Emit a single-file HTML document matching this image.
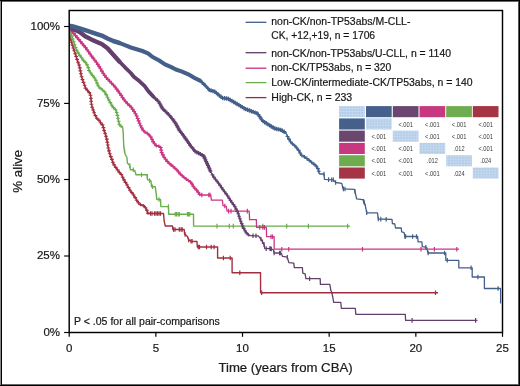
<!DOCTYPE html>
<html><head><meta charset="utf-8"><style>
html,body{margin:0;padding:0;background:#fff;}
body{width:520px;height:386px;overflow:hidden;position:relative;}
svg{position:absolute;left:0;top:0;will-change:transform;}
text{font-family:"Liberation Sans",sans-serif;stroke:currentColor;stroke-width:0.18px;}
text.t{stroke:none;}
</style></head><body>
<svg width="520" height="386" viewBox="0 0 520 386">
<defs><pattern id="chk" width="2.8" height="2.8" patternUnits="userSpaceOnUse">
<rect width="2.8" height="2.8" fill="#c9dcf0"/><rect width="2.0" height="2.0" fill="#b2cbe7"/></pattern>
<clipPath id="pc"><rect x="69.6" y="11" width="432" height="320.5"/></clipPath></defs>
<rect x="0" y="0" width="520" height="386" fill="#fff"/>
<rect x="0" y="1" width="520" height="1" fill="#666"/>
<rect x="0" y="384" width="520" height="1" fill="#666"/>
<rect x="518" y="0" width="1" height="386" fill="#555"/>
<rect x="0" y="0" width="1" height="386" fill="#888"/>
<rect x="1" y="0" width="1" height="386" fill="#000"/>
<rect x="0" y="0" width="520" height="1" fill="#000"/>
<rect x="519" y="0" width="1" height="386" fill="#000"/>
<rect x="0" y="385" width="520" height="1" fill="#000"/>
<g clip-path="url(#pc)"><path d="M69.0,26.0 L69.6,32.0 L70.3,38.1 L71.9,43.5 L73.4,48.2 L75.0,52.9 L76.5,57.5 L77.7,61.5 L78.8,64.0 L79.6,66.7 L80.3,70.5 L81.1,75.0 L82.6,79.8 L84.3,84.5 L85.8,88.8 L88.7,91.5 L90.5,95.0 L91.1,99.6 L91.6,105.5 L92.9,109.3 L94.6,114.0 L97.0,118.6 L99.9,121.0 L101.1,123.9 L102.8,125.1 L104.0,130.3 L105.7,135.0 L106.9,139.6 L107.8,145.0 L108.5,149.0 L109.4,152.8 L111.2,157.5 L113.5,164.0 L116.2,168.0 L118.6,171.5 L121.7,175.0 L123.8,179.6 L126.7,184.3 L130.0,190.2 L133.5,194.8 L137.0,200.6 L139.3,204.1 L144.0,205.9 L146.3,208.8 L148.1,213.5" fill="none" stroke="#a22e40" stroke-width="1.3" stroke-linejoin="round" stroke-linecap="butt"/>
<path d="M67.5,30.5h3.8M69.4,28.8v3.4M67.9,33.5h3.8M69.8,31.8v3.4M68.2,36.4h3.8M70.1,34.7v3.4M68.8,39.4h3.8M70.7,37.7v3.4M69.6,42.3h3.8M71.5,40.6v3.4M70.5,45.1h3.8M72.4,43.4v3.4M71.4,48.0h3.8M73.3,46.3v3.4M72.4,50.8h3.8M74.3,49.1v3.4M73.3,53.7h3.8M75.2,52.0v3.4M74.3,56.5h3.8M76.2,54.8v3.4M75.2,59.4h3.8M77.1,57.7v3.4M76.1,62.2h3.8M78.0,60.5v3.4M77.2,65.0h3.8M79.1,63.3v3.4M77.9,67.9h3.8M79.8,66.2v3.4M78.5,70.9h3.8M80.4,69.2v3.4M79.0,73.8h3.8M80.9,72.1v3.4M79.7,76.7h3.8M81.6,75.0v3.4M80.6,79.6h3.8M82.5,77.9v3.4M81.6,82.4h3.8M83.5,80.7v3.4M82.7,85.2h3.8M84.6,83.5v3.4M83.6,88.1h3.8M85.5,86.4v3.4M85.5,90.3h3.8M87.4,88.6v3.4M87.4,92.6h3.8M89.3,90.9v3.4M88.6,95.3h3.8M90.5,93.6v3.4M89.0,98.3h3.8M90.9,96.6v3.4M89.3,101.3h3.8M91.2,99.6v3.4M89.6,104.3h3.8M91.5,102.6v3.4M90.3,107.2h3.8M92.2,105.5v3.4M91.3,110.0h3.8M93.2,108.3v3.4M92.3,112.8h3.8M94.2,111.1v3.4M93.5,115.6h3.8M95.4,113.9v3.4M94.9,118.2h3.8M96.8,116.5v3.4M97.1,120.2h3.8M99.0,118.5v3.4M98.7,122.7h3.8M100.6,121.0v3.4M100.6,124.9h3.8M102.5,123.2v3.4M101.5,127.6h3.8M103.4,125.9v3.4M102.2,130.5h3.8M104.1,128.8v3.4M103.2,133.3h3.8M105.1,131.6v3.4M104.1,136.2h3.8M106.0,134.5v3.4M104.9,139.1h3.8M106.8,137.4v3.4M105.4,142.1h3.8M107.3,140.4v3.4M105.9,145.0h3.8M107.8,143.3v3.4M106.4,148.0h3.8M108.3,146.3v3.4M107.1,150.9h3.8M109.0,149.2v3.4M107.9,153.8h3.8M109.8,152.1v3.4M108.9,156.6h3.8M110.8,154.9v3.4M110.0,159.4h3.8M111.9,157.7v3.4M111.0,162.2h3.8M112.9,160.5v3.4M112.2,164.9h3.8M114.1,163.2v3.4M113.9,167.4h3.8M115.8,165.7v3.4M115.6,169.9h3.8M117.5,168.2v3.4M117.4,172.3h3.8M119.3,170.6v3.4M119.4,174.5h3.8M121.3,172.8v3.4M120.8,177.2h3.8M122.7,175.5v3.4M122.1,179.9h3.8M124.0,178.2v3.4M123.6,182.4h3.8M125.5,180.7v3.4M125.2,185.0h3.8M127.1,183.3v3.4M126.7,187.6h3.8M128.6,185.9v3.4M128.1,190.2h3.8M130.0,188.5v3.4M129.9,192.6h3.8M131.8,190.9v3.4M131.7,195.0h3.8M133.6,193.3v3.4M133.3,197.6h3.8M135.2,195.9v3.4M134.8,200.2h3.8M136.7,198.5v3.4M136.5,202.7h3.8M138.4,201.0v3.4M138.6,204.6h3.8M140.5,202.9v3.4M141.4,205.6h3.8M143.3,203.9v3.4M143.5,207.7h3.8M145.4,206.0v3.4M145.0,210.3h3.8M146.9,208.6v3.4M146.0,213.1h3.8M147.9,211.4v3.4" fill="none" stroke="#a22e40" stroke-width="1.1"/>
<path d="M148.1,213.5 L163.5,213.5 L164.2,221.3 L165.3,226.0 L172.5,226.0 L172.9,229.5 L184.2,229.5 L184.6,234.1 L187.5,236.5 L188.6,240.0 L191.0,241.2 L197.0,241.5 L197.3,247.0 L217.6,247.0 L217.6,258.0 L232.1,258.0 L232.1,272.7 L260.5,272.7 L260.6,292.7 L438.0,292.7" fill="none" stroke="#a22e40" stroke-width="1.4" stroke-linejoin="round" stroke-linecap="butt"/>
<line x1="150.5" y1="211.2" x2="150.5" y2="215.8" stroke="#a22e40" stroke-width="1.2"/>
<line x1="152.0" y1="211.2" x2="152.0" y2="215.8" stroke="#a22e40" stroke-width="1.2"/>
<line x1="154.5" y1="211.2" x2="154.5" y2="215.8" stroke="#a22e40" stroke-width="1.2"/>
<line x1="156.0" y1="211.2" x2="156.0" y2="215.8" stroke="#a22e40" stroke-width="1.2"/>
<line x1="157.5" y1="211.2" x2="157.5" y2="215.8" stroke="#a22e40" stroke-width="1.2"/>
<line x1="159.0" y1="211.2" x2="159.0" y2="215.8" stroke="#a22e40" stroke-width="1.2"/>
<line x1="160.5" y1="211.2" x2="160.5" y2="215.8" stroke="#a22e40" stroke-width="1.2"/>
<line x1="173.5" y1="227.2" x2="173.5" y2="231.8" stroke="#a22e40" stroke-width="1.2"/>
<line x1="175.0" y1="227.2" x2="175.0" y2="231.8" stroke="#a22e40" stroke-width="1.2"/>
<line x1="179.3" y1="227.2" x2="179.3" y2="231.8" stroke="#a22e40" stroke-width="1.2"/>
<line x1="181.1" y1="227.2" x2="181.1" y2="231.8" stroke="#a22e40" stroke-width="1.2"/>
<line x1="182.2" y1="227.2" x2="182.2" y2="231.8" stroke="#a22e40" stroke-width="1.2"/>
<line x1="185.1" y1="232.2" x2="185.1" y2="236.8" stroke="#a22e40" stroke-width="1.2"/>
<line x1="188.6" y1="237.7" x2="188.6" y2="242.3" stroke="#a22e40" stroke-width="1.2"/>
<line x1="191.0" y1="238.9" x2="191.0" y2="243.5" stroke="#a22e40" stroke-width="1.2"/>
<line x1="192.1" y1="239.0" x2="192.1" y2="243.6" stroke="#a22e40" stroke-width="1.2"/>
<line x1="198.3" y1="244.7" x2="198.3" y2="249.3" stroke="#a22e40" stroke-width="1.2"/>
<line x1="199.5" y1="244.7" x2="199.5" y2="249.3" stroke="#a22e40" stroke-width="1.2"/>
<line x1="206.5" y1="244.7" x2="206.5" y2="249.3" stroke="#a22e40" stroke-width="1.2"/>
<line x1="211.2" y1="244.7" x2="211.2" y2="249.3" stroke="#a22e40" stroke-width="1.2"/>
<line x1="214.1" y1="244.7" x2="214.1" y2="249.3" stroke="#a22e40" stroke-width="1.2"/>
<line x1="223.4" y1="255.7" x2="223.4" y2="260.3" stroke="#a22e40" stroke-width="1.2"/>
<line x1="230.2" y1="255.7" x2="230.2" y2="260.3" stroke="#a22e40" stroke-width="1.2"/>
<line x1="239.8" y1="270.4" x2="239.8" y2="275.0" stroke="#a22e40" stroke-width="1.2"/>
<line x1="261.7" y1="290.4" x2="261.7" y2="295.0" stroke="#a22e40" stroke-width="1.2"/>
<line x1="435.5" y1="290.4" x2="435.5" y2="295.0" stroke="#a22e40" stroke-width="1.2"/>
<path d="M69.0,26.0 L70.0,30.0 L71.1,34.2 L72.7,38.9 L74.2,43.5 L75.8,48.2 L78.1,52.9 L80.5,56.3 L82.9,59.8 L85.8,62.8 L88.1,66.7 L89.0,70.5 L91.2,73.6 L93.5,76.7 L95.9,80.2 L97.5,84.5 L99.0,87.2 L102.0,89.5 L105.1,92.4 L107.4,97.1 L109.5,101.3 L111.8,105.2 L114.2,108.7 L116.2,110.5 L117.4,115.2 L118.5,121.0 L119.7,125.6 L122.6,126.8" fill="none" stroke="#6aad4c" stroke-width="1.3" stroke-linejoin="round" stroke-linecap="butt"/>
<path d="M68.2,30.4h3.8M70.1,28.7v3.4M69.0,33.3h3.8M70.9,31.6v3.4M69.9,36.1h3.8M71.8,34.4v3.4M70.8,39.0h3.8M72.7,37.3v3.4M71.8,41.8h3.8M73.7,40.1v3.4M72.7,44.7h3.8M74.6,43.0v3.4M73.7,47.5h3.8M75.6,45.8v3.4M74.9,50.2h3.8M76.8,48.5v3.4M76.2,52.9h3.8M78.1,51.2v3.4M77.9,55.4h3.8M79.8,53.7v3.4M79.7,57.8h3.8M81.6,56.1v3.4M81.4,60.3h3.8M83.3,58.6v3.4M83.5,62.4h3.8M85.4,60.7v3.4M85.1,64.9h3.8M87.0,63.2v3.4M86.4,67.6h3.8M88.3,65.9v3.4M87.1,70.5h3.8M89.0,68.8v3.4M88.8,73.0h3.8M90.7,71.3v3.4M90.6,75.4h3.8M92.5,73.7v3.4M92.4,77.8h3.8M94.3,76.1v3.4M94.0,80.3h3.8M95.9,78.6v3.4M95.1,83.1h3.8M97.0,81.4v3.4M96.3,85.8h3.8M98.2,84.1v3.4M98.2,88.1h3.8M100.1,86.4v3.4M100.6,90.0h3.8M102.5,88.3v3.4M102.8,92.0h3.8M104.7,90.3v3.4M104.3,94.6h3.8M106.2,92.9v3.4M105.6,97.3h3.8M107.5,95.6v3.4M106.9,99.9h3.8M108.8,98.2v3.4M108.4,102.6h3.8M110.3,100.9v3.4M109.9,105.2h3.8M111.8,103.5v3.4M111.6,107.6h3.8M113.5,105.9v3.4M113.6,109.8h3.8M115.5,108.1v3.4M114.8,112.5h3.8M116.7,110.8v3.4M115.5,115.4h3.8M117.4,113.7v3.4M116.1,118.3h3.8M118.0,116.6v3.4M116.7,121.3h3.8M118.6,119.6v3.4M117.4,124.2h3.8M119.3,122.5v3.4M119.2,126.2h3.8M121.1,124.5v3.4" fill="none" stroke="#6aad4c" stroke-width="1.1"/>
<path d="M122.6,126.8 L123.2,132.6 L123.8,147.0 L125.1,154.0 L126.9,157.5 L127.5,163.3 L129.8,165.6 L130.4,169.7 L133.3,169.7 L135.0,170.9 L136.0,174.8 L147.2,174.8 L147.5,179.7 L151.0,181.0 L151.5,186.7 L155.2,186.7 L156.2,193.6 L156.8,199.5 L160.5,199.5 L160.9,206.6 L168.5,206.6 L168.7,214.2 L193.5,214.2 L193.6,226.1 L350.0,226.1" fill="none" stroke="#6aad4c" stroke-width="1.4" stroke-linejoin="round" stroke-linecap="butt"/>
<line x1="124.5" y1="148.5" x2="124.5" y2="153.1" stroke="#6aad4c" stroke-width="1.2"/>
<line x1="129.8" y1="163.3" x2="129.8" y2="167.9" stroke="#6aad4c" stroke-width="1.2"/>
<line x1="133.3" y1="167.4" x2="133.3" y2="172.0" stroke="#6aad4c" stroke-width="1.2"/>
<line x1="141.5" y1="172.5" x2="141.5" y2="177.1" stroke="#6aad4c" stroke-width="1.2"/>
<line x1="147.3" y1="174.1" x2="147.3" y2="178.7" stroke="#6aad4c" stroke-width="1.2"/>
<line x1="149.6" y1="178.2" x2="149.6" y2="182.8" stroke="#6aad4c" stroke-width="1.2"/>
<line x1="152.5" y1="184.4" x2="152.5" y2="189.0" stroke="#6aad4c" stroke-width="1.2"/>
<line x1="159.0" y1="197.2" x2="159.0" y2="201.8" stroke="#6aad4c" stroke-width="1.2"/>
<line x1="168.4" y1="204.3" x2="168.4" y2="208.9" stroke="#6aad4c" stroke-width="1.2"/>
<line x1="175.2" y1="211.9" x2="175.2" y2="216.5" stroke="#6aad4c" stroke-width="1.2"/>
<line x1="176.4" y1="211.9" x2="176.4" y2="216.5" stroke="#6aad4c" stroke-width="1.2"/>
<line x1="178.1" y1="211.9" x2="178.1" y2="216.5" stroke="#6aad4c" stroke-width="1.2"/>
<line x1="179.3" y1="211.9" x2="179.3" y2="216.5" stroke="#6aad4c" stroke-width="1.2"/>
<line x1="187.5" y1="211.9" x2="187.5" y2="216.5" stroke="#6aad4c" stroke-width="1.2"/>
<line x1="188.6" y1="211.9" x2="188.6" y2="216.5" stroke="#6aad4c" stroke-width="1.2"/>
<line x1="189.8" y1="211.9" x2="189.8" y2="216.5" stroke="#6aad4c" stroke-width="1.2"/>
<line x1="217.0" y1="223.8" x2="217.0" y2="228.4" stroke="#6aad4c" stroke-width="1.2"/>
<line x1="229.3" y1="223.8" x2="229.3" y2="228.4" stroke="#6aad4c" stroke-width="1.2"/>
<line x1="233.3" y1="223.8" x2="233.3" y2="228.4" stroke="#6aad4c" stroke-width="1.2"/>
<line x1="242.0" y1="223.8" x2="242.0" y2="228.4" stroke="#6aad4c" stroke-width="1.2"/>
<line x1="262.8" y1="223.8" x2="262.8" y2="228.4" stroke="#6aad4c" stroke-width="1.2"/>
<line x1="286.7" y1="223.8" x2="286.7" y2="228.4" stroke="#6aad4c" stroke-width="1.2"/>
<line x1="308.4" y1="223.8" x2="308.4" y2="228.4" stroke="#6aad4c" stroke-width="1.2"/>
<line x1="347.6" y1="223.8" x2="347.6" y2="228.4" stroke="#6aad4c" stroke-width="1.2"/>
<path d="M69.0,26.0 L71.1,30.0 L74.2,34.0 L78.1,38.7 L82.0,43.3 L85.9,48.0 L89.7,53.5 L93.3,58.3 L97.2,63.3 L100.2,68.3 L103.2,73.3 L106.5,78.0 L110.3,81.8 L114.3,86.0 L117.8,90.5 L120.8,94.8 L124.0,99.6 L127.3,103.5 L131.0,106.8 L133.5,110.5 L136.4,115.2 L138.7,121.0 L141.1,126.8 L144.0,131.5 L148.1,133.8 L151.0,137.3 L153.3,142.0 L155.8,145.5 L160.5,146.7 L161.7,152.5 L164.0,157.1 L167.5,161.8 L171.6,165.3 L176.5,169.5 L180.0,173.8 L184.3,177.6 L187.8,180.2 L191.3,182.5 L193.6,187.1 L197.1,190.6 L200.1,195.0" fill="none" stroke="#cc3483" stroke-width="1.4" stroke-linejoin="round" stroke-linecap="butt"/>
<path d="M68.8,29.5h4.0M70.8,27.7v3.6M70.3,31.6h4.0M72.3,29.8v3.6M71.9,33.6h4.0M73.9,31.8v3.6M73.6,35.6h4.0M75.6,33.8v3.6M75.2,37.6h4.0M77.2,35.8v3.6M76.9,39.6h4.0M78.9,37.8v3.6M78.6,41.6h4.0M80.6,39.8v3.6M80.2,43.6h4.0M82.2,41.8v3.6M81.9,45.6h4.0M83.9,43.8v3.6M83.6,47.6h4.0M85.6,45.8v3.6M85.1,49.7h4.0M87.1,47.9v3.6M86.6,51.8h4.0M88.6,50.0v3.6M88.1,54.0h4.0M90.1,52.2v3.6M89.6,56.1h4.0M91.6,54.3v3.6M91.2,58.1h4.0M93.2,56.3v3.6M92.8,60.2h4.0M94.8,58.4v3.6M94.4,62.2h4.0M96.4,60.4v3.6M95.8,64.4h4.0M97.8,62.6v3.6M97.2,66.6h4.0M99.2,64.8v3.6M98.5,68.8h4.0M100.5,67.0v3.6M99.9,71.1h4.0M101.9,69.3v3.6M101.2,73.3h4.0M103.2,71.5v3.6M102.7,75.4h4.0M104.7,73.6v3.6M104.2,77.5h4.0M106.2,75.7v3.6M105.9,79.4h4.0M107.9,77.6v3.6M107.8,81.3h4.0M109.8,79.5v3.6M109.6,83.2h4.0M111.6,81.4v3.6M111.4,85.0h4.0M113.4,83.2v3.6M113.1,87.0h4.0M115.1,85.2v3.6M114.7,89.1h4.0M116.7,87.3v3.6M116.2,91.1h4.0M118.2,89.3v3.6M117.7,93.3h4.0M119.7,91.5v3.6M119.2,95.4h4.0M121.2,93.6v3.6M120.6,97.6h4.0M122.6,95.8v3.6M122.1,99.7h4.0M124.1,97.9v3.6M123.8,101.7h4.0M125.8,99.9v3.6M125.5,103.7h4.0M127.5,101.9v3.6M127.4,105.4h4.0M129.4,103.6v3.6M129.3,107.2h4.0M131.3,105.4v3.6M130.7,109.4h4.0M132.7,107.6v3.6M132.1,111.5h4.0M134.1,109.7v3.6M133.5,113.8h4.0M135.5,112.0v3.6M134.7,116.0h4.0M136.7,114.2v3.6M135.7,118.5h4.0M137.7,116.7v3.6M136.6,120.9h4.0M138.6,119.1v3.6M137.6,123.3h4.0M139.6,121.5v3.6M138.6,125.7h4.0M140.6,123.9v3.6M139.8,128.0h4.0M141.8,126.2v3.6M141.2,130.2h4.0M143.2,128.4v3.6M142.9,132.0h4.0M144.9,130.2v3.6M145.2,133.3h4.0M147.2,131.5v3.6M147.1,135.0h4.0M149.1,133.2v3.6M148.8,137.0h4.0M150.8,135.2v3.6M150.0,139.3h4.0M152.0,137.5v3.6M151.1,141.6h4.0M153.1,139.8v3.6M152.6,143.8h4.0M154.6,142.0v3.6M154.3,145.6h4.0M156.3,143.8v3.6M156.8,146.3h4.0M158.8,144.5v3.6M158.7,147.5h4.0M160.7,145.7v3.6M159.2,150.1h4.0M161.2,148.3v3.6M159.7,152.6h4.0M161.7,150.8v3.6M160.9,154.9h4.0M162.9,153.1v3.6M162.1,157.2h4.0M164.1,155.4v3.6M163.7,159.3h4.0M165.7,157.5v3.6M165.2,161.4h4.0M167.2,159.6v3.6M167.1,163.2h4.0M169.1,161.4v3.6M169.1,164.9h4.0M171.1,163.1v3.6M171.1,166.5h4.0M173.1,164.7v3.6M173.0,168.2h4.0M175.0,166.4v3.6M174.9,170.0h4.0M176.9,168.2v3.6M176.6,172.0h4.0M178.6,170.2v3.6M178.2,174.0h4.0M180.2,172.2v3.6M180.2,175.7h4.0M182.2,173.9v3.6M182.1,177.5h4.0M184.1,175.7v3.6M184.2,179.0h4.0M186.2,177.2v3.6M186.3,180.5h4.0M188.3,178.7v3.6M188.5,182.0h4.0M190.5,180.2v3.6M190.0,184.0h4.0M192.0,182.2v3.6M191.2,186.3h4.0M193.2,184.5v3.6M192.8,188.3h4.0M194.8,186.5v3.6M194.6,190.1h4.0M196.6,188.3v3.6M196.2,192.2h4.0M198.2,190.4v3.6M197.7,194.4h4.0M199.7,192.6v3.6" fill="none" stroke="#cc3483" stroke-width="1.1"/>
<path d="M200.1,195.0 L210.8,195.0 L211.4,200.2 L222.4,200.2 L223.0,205.6 L226.3,206.4 L227.1,211.1 L249.2,211.1 L249.6,219.6 L256.4,219.6 L256.5,227.4 L266.3,227.4 L266.6,236.7 L274.1,236.7 L274.2,249.2 L459.0,249.2" fill="none" stroke="#cc3483" stroke-width="1.3" stroke-linejoin="round" stroke-linecap="butt"/>
<line x1="201.8" y1="192.7" x2="201.8" y2="197.3" stroke="#cc3483" stroke-width="1.2"/>
<line x1="208.8" y1="192.7" x2="208.8" y2="197.3" stroke="#cc3483" stroke-width="1.2"/>
<line x1="210.0" y1="192.7" x2="210.0" y2="197.3" stroke="#cc3483" stroke-width="1.2"/>
<line x1="224.8" y1="203.7" x2="224.8" y2="208.3" stroke="#cc3483" stroke-width="1.2"/>
<line x1="228.6" y1="208.8" x2="228.6" y2="213.4" stroke="#cc3483" stroke-width="1.2"/>
<line x1="231.0" y1="208.8" x2="231.0" y2="213.4" stroke="#cc3483" stroke-width="1.2"/>
<line x1="247.3" y1="208.8" x2="247.3" y2="213.4" stroke="#cc3483" stroke-width="1.2"/>
<line x1="259.7" y1="225.1" x2="259.7" y2="229.7" stroke="#cc3483" stroke-width="1.2"/>
<line x1="262.8" y1="225.1" x2="262.8" y2="229.7" stroke="#cc3483" stroke-width="1.2"/>
<line x1="264.4" y1="225.1" x2="264.4" y2="229.7" stroke="#cc3483" stroke-width="1.2"/>
<line x1="271.0" y1="234.4" x2="271.0" y2="239.0" stroke="#cc3483" stroke-width="1.2"/>
<line x1="272.5" y1="234.4" x2="272.5" y2="239.0" stroke="#cc3483" stroke-width="1.2"/>
<line x1="281.8" y1="246.9" x2="281.8" y2="251.5" stroke="#cc3483" stroke-width="1.2"/>
<line x1="288.7" y1="246.9" x2="288.7" y2="251.5" stroke="#cc3483" stroke-width="1.2"/>
<line x1="362.5" y1="246.9" x2="362.5" y2="251.5" stroke="#cc3483" stroke-width="1.2"/>
<line x1="421.0" y1="246.9" x2="421.0" y2="251.5" stroke="#cc3483" stroke-width="1.2"/>
<line x1="434.4" y1="246.9" x2="434.4" y2="251.5" stroke="#cc3483" stroke-width="1.2"/>
<line x1="456.8" y1="246.9" x2="456.8" y2="251.5" stroke="#cc3483" stroke-width="1.2"/>
<path d="M69.0,26.0 L72.7,29.0 L79.7,32.0 L85.1,36.2 L91.3,39.4 L97.5,42.2 L101.7,44.0 L107.5,48.3 L113.3,54.8 L119.1,61.2" fill="none" stroke="#623f6c" stroke-width="4.4" stroke-linejoin="round" stroke-linecap="round"/>
<path d="M119.1,61.2 L125.0,67.3 L130.8,73.0 L133.8,76.7 L139.6,81.3 L144.7,86.2 L148.5,91.4 L153.5,96.8" fill="none" stroke="#623f6c" stroke-width="3.8" stroke-linejoin="round" stroke-linecap="round"/>
<path d="M153.5,96.8 L158.6,101.5 L162.6,108.7 L168.2,114.0 L172.5,119.0 L176.0,124.0 L179.5,130.5 L182.7,134.5 L186.2,139.5 L190.8,146.0 L195.0,151.2 L200.2,154.1 L203.6,155.8 L205.6,160.3 L208.5,166.5 L210.6,171.5" fill="none" stroke="#623f6c" stroke-width="2.4" stroke-linejoin="round" stroke-linecap="round"/>
<path d="M153.7,98.8h4.0M155.7,96.7v4.2M155.2,100.2h4.0M157.2,98.1v4.2M156.6,101.6h4.0M158.6,99.5v4.2M157.6,103.3h4.0M159.6,101.2v4.2M158.6,105.1h4.0M160.6,103.0v4.2M159.5,106.8h4.0M161.5,104.7v4.2M160.5,108.5h4.0M162.5,106.4v4.2M161.9,110.0h4.0M163.9,107.9v4.2M163.4,111.3h4.0M165.4,109.2v4.2M164.8,112.7h4.0M166.8,110.6v4.2M166.3,114.1h4.0M168.3,112.0v4.2M167.6,115.6h4.0M169.6,113.5v4.2M168.9,117.1h4.0M170.9,115.0v4.2M170.2,118.6h4.0M172.2,116.5v4.2M171.4,120.2h4.0M173.4,118.1v4.2M172.5,121.9h4.0M174.5,119.8v4.2M173.7,123.5h4.0M175.7,121.4v4.2M174.7,125.3h4.0M176.7,123.2v4.2M175.6,127.0h4.0M177.6,124.9v4.2M176.6,128.8h4.0M178.6,126.7v4.2M177.5,130.5h4.0M179.5,128.4v4.2M178.8,132.1h4.0M180.8,130.0v4.2M180.0,133.7h4.0M182.0,131.6v4.2M181.2,135.2h4.0M183.2,133.1v4.2M182.4,136.9h4.0M184.4,134.8v4.2M183.5,138.5h4.0M185.5,136.4v4.2M184.7,140.2h4.0M186.7,138.1v4.2M185.8,141.8h4.0M187.8,139.7v4.2M187.0,143.4h4.0M189.0,141.3v4.2M188.1,145.1h4.0M190.1,143.0v4.2M189.3,146.7h4.0M191.3,144.6v4.2M190.6,148.2h4.0M192.6,146.1v4.2M191.8,149.8h4.0M193.8,147.7v4.2M193.1,151.3h4.0M195.1,149.2v4.2M194.9,152.3h4.0M196.9,150.2v4.2M196.6,153.2h4.0M198.6,151.1v4.2M198.4,154.2h4.0M200.4,152.1v4.2M200.2,155.1h4.0M202.2,153.0v4.2M201.8,156.2h4.0M203.8,154.1v4.2M202.6,158.0h4.0M204.6,155.9v4.2M203.4,159.8h4.0M205.4,157.7v4.2M204.2,161.6h4.0M206.2,159.5v4.2M205.1,163.5h4.0M207.1,161.4v4.2M205.9,165.3h4.0M207.9,163.2v4.2M206.7,167.1h4.0M208.7,165.0v4.2M207.5,168.9h4.0M209.5,166.8v4.2M208.3,170.8h4.0M210.3,168.7v4.2" fill="none" stroke="#623f6c" stroke-width="1.3"/>
<path d="M210.6,171.5 L213.5,176.7 L218.0,182.5 L222.8,189.3 L227.0,195.0 L231.2,201.5 L234.9,206.6 L238.0,213.0 L240.3,220.0 L242.6,225.8 L244.5,229.8 L246.5,233.0 L249.2,235.6" fill="none" stroke="#623f6c" stroke-width="1.3" stroke-linejoin="round" stroke-linecap="butt"/>
<path d="M210.7,174.9h3.6M212.5,173.2v3.4M212.0,177.1h3.6M213.8,175.4v3.4M213.6,179.2h3.6M215.4,177.5v3.4M215.2,181.2h3.6M217.0,179.5v3.4M216.8,183.3h3.6M218.6,181.6v3.4M218.3,185.4h3.6M220.1,183.7v3.4M219.8,187.6h3.6M221.6,185.9v3.4M221.3,189.7h3.6M223.1,188.0v3.4M222.8,191.8h3.6M224.6,190.1v3.4M224.4,193.9h3.6M226.2,192.2v3.4M225.9,196.0h3.6M227.7,194.3v3.4M227.3,198.2h3.6M229.1,196.5v3.4M228.7,200.4h3.6M230.5,198.7v3.4M230.1,202.5h3.6M231.9,200.8v3.4M231.7,204.6h3.6M233.5,202.9v3.4M233.2,206.7h3.6M235.0,205.0v3.4M234.3,209.1h3.6M236.1,207.4v3.4M235.4,211.4h3.6M237.2,209.7v3.4M236.5,213.8h3.6M238.3,212.1v3.4M237.3,216.3h3.6M239.1,214.6v3.4M238.1,218.7h3.6M239.9,217.0v3.4M239.0,221.2h3.6M240.8,219.5v3.4M239.9,223.6h3.6M241.7,221.9v3.4M240.9,226.0h3.6M242.7,224.3v3.4M242.0,228.4h3.6M243.8,226.7v3.4M243.2,230.7h3.6M245.0,229.0v3.4M244.6,232.9h3.6M246.4,231.2v3.4M246.5,234.7h3.6M248.3,233.0v3.4" fill="none" stroke="#623f6c" stroke-width="1.1"/>
<path d="M249.2,235.6 L258.3,235.9 L260.9,239.0 L264.0,244.4 L264.8,248.6 L270.2,248.5 L273.5,249.9 L274.1,253.0 L281.1,253.0 L282.6,256.4 L287.3,257.2 L288.8,262.7 L293.8,263.1 L294.3,267.7 L302.4,267.7 L302.8,273.2 L305.1,273.9 L305.9,278.7 L320.2,278.7 L320.4,284.4 L329.8,284.4 L330.8,290.2 L331.7,292.1 L332.7,296.9 L333.7,302.3 L340.8,302.3 L341.3,308.3 L355.3,308.3 L355.8,314.3 L405.3,314.3 L405.6,320.4 L477.5,320.4" fill="none" stroke="#623f6c" stroke-width="1.3" stroke-linejoin="round" stroke-linecap="butt"/>
<line x1="253.0" y1="233.4" x2="253.0" y2="238.0" stroke="#623f6c" stroke-width="1.2"/>
<line x1="256.0" y1="233.5" x2="256.0" y2="238.1" stroke="#623f6c" stroke-width="1.2"/>
<line x1="260.9" y1="236.7" x2="260.9" y2="241.3" stroke="#623f6c" stroke-width="1.2"/>
<line x1="262.5" y1="239.5" x2="262.5" y2="244.1" stroke="#623f6c" stroke-width="1.2"/>
<line x1="264.0" y1="242.1" x2="264.0" y2="246.7" stroke="#623f6c" stroke-width="1.2"/>
<line x1="266.2" y1="246.3" x2="266.2" y2="250.9" stroke="#623f6c" stroke-width="1.2"/>
<line x1="269.9" y1="246.2" x2="269.9" y2="250.8" stroke="#623f6c" stroke-width="1.2"/>
<line x1="270.6" y1="246.4" x2="270.6" y2="251.0" stroke="#623f6c" stroke-width="1.2"/>
<line x1="271.3" y1="246.7" x2="271.3" y2="251.3" stroke="#623f6c" stroke-width="1.2"/>
<line x1="274.1" y1="250.7" x2="274.1" y2="255.3" stroke="#623f6c" stroke-width="1.2"/>
<line x1="279.6" y1="250.7" x2="279.6" y2="255.3" stroke="#623f6c" stroke-width="1.2"/>
<line x1="280.3" y1="250.7" x2="280.3" y2="255.3" stroke="#623f6c" stroke-width="1.2"/>
<line x1="287.3" y1="254.9" x2="287.3" y2="259.5" stroke="#623f6c" stroke-width="1.2"/>
<line x1="309.6" y1="276.4" x2="309.6" y2="281.0" stroke="#623f6c" stroke-width="1.2"/>
<line x1="412.1" y1="318.1" x2="412.1" y2="322.7" stroke="#623f6c" stroke-width="1.2"/>
<line x1="475.6" y1="318.1" x2="475.6" y2="322.7" stroke="#623f6c" stroke-width="1.2"/>
<path d="M69.0,25.8 L73.0,26.5 L79.7,28.3 L87.4,30.8 L95.5,33.6 L101.7,35.6 L107.5,38.5 L113.3,41.0 L119.1,42.9" fill="none" stroke="#435f8a" stroke-width="4.5" stroke-linejoin="round" stroke-linecap="round"/>
<path d="M119.1,42.9 L125.0,45.2 L130.8,47.5 L136.6,49.2 L142.4,51.0 L148.0,53.3 L152.6,57.0 L158.8,60.3 L165.0,64.4 L171.3,67.2 L175.9,69.5 L182.1,71.6 L188.3,74.3 L194.6,78.0 L200.0,80.7" fill="none" stroke="#435f8a" stroke-width="4.1" stroke-linejoin="round" stroke-linecap="round"/>
<path d="M200.0,80.7 L204.7,84.8 L209.3,90.0 L214.8,91.7 L218.6,94.9 L222.5,98.0 L228.0,98.7 L233.4,101.8 L238.8,105.0 L245.0,108.8 L251.3,111.2 L257.5,113.5 L259.8,116.6 L262.1,120.5 L268.3,124.6 L274.6,128.4 L280.9,130.0 L285.5,132.5" fill="none" stroke="#435f8a" stroke-width="2.4" stroke-linejoin="round" stroke-linecap="round"/>
<path d="M200.3,82.7h4.0M202.3,80.5v4.4M201.8,84.0h4.0M203.8,81.8v4.4M203.2,85.4h4.0M205.2,83.2v4.4M204.5,86.9h4.0M206.5,84.7v4.4M205.9,88.4h4.0M207.9,86.2v4.4M207.2,89.9h4.0M209.2,87.7v4.4M209.0,90.5h4.0M211.0,88.3v4.4M211.0,91.1h4.0M213.0,88.9v4.4M212.8,91.7h4.0M214.8,89.5v4.4M214.4,93.0h4.0M216.4,90.8v4.4M215.9,94.3h4.0M217.9,92.1v4.4M217.5,95.6h4.0M219.5,93.4v4.4M219.0,96.8h4.0M221.0,94.6v4.4M220.6,98.0h4.0M222.6,95.8v4.4M222.6,98.3h4.0M224.6,96.1v4.4M224.6,98.5h4.0M226.6,96.3v4.4M226.5,99.0h4.0M228.5,96.8v4.4M228.2,100.0h4.0M230.2,97.8v4.4M230.0,101.0h4.0M232.0,98.8v4.4M231.7,102.0h4.0M233.7,99.8v4.4M233.4,103.0h4.0M235.4,100.8v4.4M235.1,104.0h4.0M237.1,101.8v4.4M236.9,105.0h4.0M238.9,102.8v4.4M238.6,106.1h4.0M240.6,103.9v4.4M240.3,107.1h4.0M242.3,104.9v4.4M242.0,108.2h4.0M244.0,106.0v4.4M243.7,109.1h4.0M245.7,106.9v4.4M245.6,109.8h4.0M247.6,107.6v4.4M247.5,110.5h4.0M249.5,108.3v4.4M249.3,111.2h4.0M251.3,109.0v4.4M251.2,111.9h4.0M253.2,109.7v4.4M253.1,112.6h4.0M255.1,110.4v4.4M255.0,113.3h4.0M257.0,111.1v4.4M256.4,114.7h4.0M258.4,112.5v4.4M257.5,116.3h4.0M259.5,114.1v4.4M258.6,118.0h4.0M260.6,115.8v4.4M259.6,119.7h4.0M261.6,117.5v4.4M261.0,121.1h4.0M263.0,118.9v4.4M262.6,122.2h4.0M264.6,120.0v4.4M264.3,123.3h4.0M266.3,121.1v4.4M266.0,124.4h4.0M268.0,122.2v4.4M267.7,125.4h4.0M269.7,123.2v4.4M269.4,126.5h4.0M271.4,124.3v4.4M271.1,127.5h4.0M273.1,125.3v4.4M272.9,128.5h4.0M274.9,126.3v4.4M274.8,129.0h4.0M276.8,126.8v4.4M276.7,129.4h4.0M278.7,127.2v4.4M278.7,129.9h4.0M280.7,127.7v4.4M280.4,130.8h4.0M282.4,128.6v4.4M282.2,131.8h4.0M284.2,129.6v4.4" fill="none" stroke="#435f8a" stroke-width="1.3"/>
<path d="M285.5,132.5 L287.9,137.2 L291.0,142.6 L295.6,146.5 L298.7,150.4 L301.1,155.0 L306.5,158.2 L311.2,162.0 L315.8,165.5 L318.5,169.5 L319.3,174.0" fill="none" stroke="#435f8a" stroke-width="1.3" stroke-linejoin="round" stroke-linecap="butt"/>
<path d="M285.6,136.5h3.8M287.5,134.6v3.8M287.1,139.1h3.8M289.0,137.2v3.8M288.6,141.7h3.8M290.5,139.8v3.8M290.6,143.9h3.8M292.5,142.0v3.8M292.9,145.8h3.8M294.8,143.9v3.8M294.9,148.0h3.8M296.8,146.1v3.8M296.8,150.4h3.8M298.7,148.5v3.8M298.2,153.0h3.8M300.1,151.1v3.8M299.9,155.4h3.8M301.8,153.5v3.8M302.5,156.9h3.8M304.4,155.0v3.8M305.0,158.5h3.8M306.9,156.6v3.8M307.3,160.4h3.8M309.2,158.5v3.8M309.7,162.3h3.8M311.6,160.4v3.8M312.1,164.1h3.8M314.0,162.2v3.8M314.3,166.1h3.8M316.2,164.2v3.8M316.0,168.6h3.8M317.9,166.7v3.8M316.9,171.3h3.8M318.8,169.4v3.8" fill="none" stroke="#435f8a" stroke-width="1.1"/>
<path d="M319.3,174.0 L324.0,174.0 L324.5,179.4 L333.3,179.8 L335.6,182.5 L341.8,183.3 L343.0,188.9 L354.5,189.3 L355.8,195.0 L356.6,198.8 L362.8,199.6 L365.1,204.3 L366.7,212.8 L377.5,212.8 L378.3,219.0 L392.0,219.4 L392.4,223.5 L394.8,224.0 L395.5,228.0 L401.2,228.0 L401.7,231.8 L404.1,232.6 L404.9,236.5 L417.6,236.5 L418.1,241.9 L421.9,241.9 L422.3,246.6 L426.6,247.4 L428.0,253.0 L445.8,253.0 L445.8,260.3 L458.8,260.3 L458.8,267.8 L472.2,267.8 L472.2,277.0 L484.4,277.0 L484.4,288.5 L500.6,288.5 L500.6,303.5" fill="none" stroke="#435f8a" stroke-width="1.3" stroke-linejoin="round" stroke-linecap="butt"/>
<line x1="324.0" y1="171.7" x2="324.0" y2="176.3" stroke="#435f8a" stroke-width="1.2"/>
<line x1="328.6" y1="177.3" x2="328.6" y2="181.9" stroke="#435f8a" stroke-width="1.2"/>
<line x1="331.7" y1="177.4" x2="331.7" y2="182.0" stroke="#435f8a" stroke-width="1.2"/>
<line x1="333.3" y1="177.5" x2="333.3" y2="182.1" stroke="#435f8a" stroke-width="1.2"/>
<line x1="335.6" y1="180.2" x2="335.6" y2="184.8" stroke="#435f8a" stroke-width="1.2"/>
<line x1="343.4" y1="186.6" x2="343.4" y2="191.2" stroke="#435f8a" stroke-width="1.2"/>
<line x1="345.0" y1="186.7" x2="345.0" y2="191.3" stroke="#435f8a" stroke-width="1.2"/>
<line x1="355.0" y1="189.2" x2="355.0" y2="193.8" stroke="#435f8a" stroke-width="1.2"/>
<line x1="363.6" y1="198.9" x2="363.6" y2="203.5" stroke="#435f8a" stroke-width="1.2"/>
<line x1="364.4" y1="200.6" x2="364.4" y2="205.2" stroke="#435f8a" stroke-width="1.2"/>
<line x1="366.7" y1="210.5" x2="366.7" y2="215.1" stroke="#435f8a" stroke-width="1.2"/>
<line x1="378.3" y1="216.7" x2="378.3" y2="221.3" stroke="#435f8a" stroke-width="1.2"/>
<line x1="380.8" y1="216.8" x2="380.8" y2="221.4" stroke="#435f8a" stroke-width="1.2"/>
<line x1="386.2" y1="216.9" x2="386.2" y2="221.5" stroke="#435f8a" stroke-width="1.2"/>
<line x1="404.9" y1="234.2" x2="404.9" y2="238.8" stroke="#435f8a" stroke-width="1.2"/>
<line x1="405.6" y1="234.2" x2="405.6" y2="238.8" stroke="#435f8a" stroke-width="1.2"/>
<line x1="412.6" y1="234.2" x2="412.6" y2="238.8" stroke="#435f8a" stroke-width="1.2"/>
<line x1="416.5" y1="234.2" x2="416.5" y2="238.8" stroke="#435f8a" stroke-width="1.2"/>
<line x1="425.8" y1="245.0" x2="425.8" y2="249.6" stroke="#435f8a" stroke-width="1.2"/>
<line x1="428.2" y1="250.7" x2="428.2" y2="255.3" stroke="#435f8a" stroke-width="1.2"/>
<line x1="444.5" y1="250.7" x2="444.5" y2="255.3" stroke="#435f8a" stroke-width="1.2"/>
<line x1="447.3" y1="258.0" x2="447.3" y2="262.6" stroke="#435f8a" stroke-width="1.2"/>
<line x1="471.1" y1="265.5" x2="471.1" y2="270.1" stroke="#435f8a" stroke-width="1.2"/>
<line x1="477.9" y1="274.7" x2="477.9" y2="279.3" stroke="#435f8a" stroke-width="1.2"/>
<line x1="498.1" y1="286.2" x2="498.1" y2="290.8" stroke="#435f8a" stroke-width="1.2"/></g>
<rect x="69.2" y="10.5" width="433.3" height="322" fill="none" stroke="#000" stroke-width="1.45"/><line x1="64.1" y1="26.5" x2="69.2" y2="26.5" stroke="#000" stroke-width="1.15"/><text x="60" y="29.9" text-anchor="end" font-size="11.5" fill="#222">100%</text><line x1="64.1" y1="103.4" x2="69.2" y2="103.4" stroke="#000" stroke-width="1.15"/><text x="60" y="106.8" text-anchor="end" font-size="11.5" fill="#222">75%</text><line x1="64.1" y1="179.5" x2="69.2" y2="179.5" stroke="#000" stroke-width="1.15"/><text x="60" y="182.9" text-anchor="end" font-size="11.5" fill="#222">50%</text><line x1="64.1" y1="256.0" x2="69.2" y2="256.0" stroke="#000" stroke-width="1.15"/><text x="60" y="259.4" text-anchor="end" font-size="11.5" fill="#222">25%</text><line x1="64.1" y1="332.5" x2="69.2" y2="332.5" stroke="#000" stroke-width="1.15"/><text x="60" y="335.9" text-anchor="end" font-size="11.5" fill="#222">0%</text><line x1="69.20" y1="332.5" x2="69.20" y2="336.8" stroke="#000" stroke-width="1.2"/><text x="69.2" y="352" text-anchor="middle" font-size="11.5" fill="#222">0</text><line x1="155.86" y1="332.5" x2="155.86" y2="336.8" stroke="#000" stroke-width="1.2"/><text x="155.9" y="352" text-anchor="middle" font-size="11.5" fill="#222">5</text><line x1="242.52" y1="332.5" x2="242.52" y2="336.8" stroke="#000" stroke-width="1.2"/><text x="242.5" y="352" text-anchor="middle" font-size="11.5" fill="#222">10</text><line x1="329.18" y1="332.5" x2="329.18" y2="336.8" stroke="#000" stroke-width="1.2"/><text x="329.2" y="352" text-anchor="middle" font-size="11.5" fill="#222">15</text><line x1="415.84" y1="332.5" x2="415.84" y2="336.8" stroke="#000" stroke-width="1.2"/><text x="415.8" y="352" text-anchor="middle" font-size="11.5" fill="#222">20</text><line x1="502.50" y1="332.5" x2="502.50" y2="336.8" stroke="#000" stroke-width="1.2"/><text x="502.5" y="352" text-anchor="middle" font-size="11.5" fill="#222">25</text><text x="218.4" y="371.5" font-size="12.5" textLength="134.2" lengthAdjust="spacingAndGlyphs" fill="#222">Time (years from CBA)</text><text transform="translate(21.7,171.3) rotate(-90)" text-anchor="middle" font-size="13.3" fill="#222">% alive</text><text x="74.0" y="324.6" font-size="10.2" textLength="145.8" lengthAdjust="spacingAndGlyphs" fill="#222">P &lt; .05 for all pair-comparisons</text><line x1="245.6" y1="22.3" x2="266.4" y2="22.3" stroke="#3f5d88" stroke-width="1.3"/><text x="271.3" y="25.3" font-size="10.3" textLength="139.1" lengthAdjust="spacingAndGlyphs" fill="#222">non-CK/non-TP53abs/M-CLL-</text><text x="271.3" y="39.0" font-size="10.3" textLength="103.8" lengthAdjust="spacingAndGlyphs" fill="#222">CK, +12,+19, n = 1706</text><line x1="245.6" y1="52.7" x2="266.4" y2="52.7" stroke="#5e3d68" stroke-width="1.3"/><text x="271.3" y="56.6" font-size="10.3" textLength="179.7" lengthAdjust="spacingAndGlyphs" fill="#222">non-CK/non-TP53abs/U-CLL, n = 1140</text><line x1="245.6" y1="68.2" x2="266.4" y2="68.2" stroke="#c9307e" stroke-width="1.3"/><text x="271.3" y="70.8" font-size="10.3" textLength="120.1" lengthAdjust="spacingAndGlyphs" fill="#222">non-CK/TP53abs, n = 320</text><line x1="245.6" y1="82.6" x2="266.4" y2="82.6" stroke="#6aad4c" stroke-width="1.3"/><text x="271.3" y="86.0" font-size="10.3" textLength="201.4" lengthAdjust="spacingAndGlyphs" fill="#222">Low-CK/intermediate-CK/TP53abs, n = 140</text><line x1="245.6" y1="97.6" x2="266.4" y2="97.6" stroke="#9e2a3c" stroke-width="1.3"/><text x="271.3" y="100.8" font-size="10.3" textLength="80.9" lengthAdjust="spacingAndGlyphs" fill="#222">High-CK, n = 233</text><rect x="339.1" y="106.1" width="25.7" height="11.1" fill="url(#chk)"/><rect x="366.0" y="106.1" width="25.7" height="11.1" fill="#45608a"/><rect x="339.1" y="118.4" width="25.7" height="11.1" fill="#45608a"/><rect x="366.0" y="118.4" width="25.7" height="11.1" fill="url(#chk)"/><text class="t" x="398.4" y="126.5" font-size="6.7" textLength="14.6" lengthAdjust="spacingAndGlyphs" fill="#3a3a3a">&lt;.001</text><text class="t" x="425.1" y="126.5" font-size="6.7" textLength="14.6" lengthAdjust="spacingAndGlyphs" fill="#3a3a3a">&lt;.001</text><text class="t" x="451.8" y="126.5" font-size="6.7" textLength="14.6" lengthAdjust="spacingAndGlyphs" fill="#3a3a3a">&lt;.001</text><text class="t" x="478.4" y="126.5" font-size="6.7" textLength="14.6" lengthAdjust="spacingAndGlyphs" fill="#3a3a3a">&lt;.001</text><rect x="392.8" y="106.1" width="25.7" height="11.1" fill="#6a476e"/><rect x="339.1" y="130.6" width="25.7" height="11.1" fill="#6a476e"/><text class="t" x="371.6" y="138.7" font-size="6.7" textLength="14.6" lengthAdjust="spacingAndGlyphs" fill="#3a3a3a">&lt;.001</text><rect x="392.8" y="130.6" width="25.7" height="11.1" fill="url(#chk)"/><text class="t" x="425.1" y="138.7" font-size="6.7" textLength="14.6" lengthAdjust="spacingAndGlyphs" fill="#3a3a3a">&lt;.001</text><text class="t" x="451.8" y="138.7" font-size="6.7" textLength="14.6" lengthAdjust="spacingAndGlyphs" fill="#3a3a3a">&lt;.001</text><text class="t" x="478.4" y="138.7" font-size="6.7" textLength="14.6" lengthAdjust="spacingAndGlyphs" fill="#3a3a3a">&lt;.001</text><rect x="419.5" y="106.1" width="25.7" height="11.1" fill="#c8387f"/><rect x="339.1" y="142.9" width="25.7" height="11.1" fill="#c8387f"/><text class="t" x="371.6" y="151.0" font-size="6.7" textLength="14.6" lengthAdjust="spacingAndGlyphs" fill="#3a3a3a">&lt;.001</text><text class="t" x="398.4" y="151.0" font-size="6.7" textLength="14.6" lengthAdjust="spacingAndGlyphs" fill="#3a3a3a">&lt;.001</text><rect x="419.5" y="142.9" width="25.7" height="11.1" fill="url(#chk)"/><text class="t" x="453.6" y="151.0" font-size="6.7" textLength="11.0" lengthAdjust="spacingAndGlyphs" fill="#3a3a3a">.012</text><text class="t" x="478.4" y="151.0" font-size="6.7" textLength="14.6" lengthAdjust="spacingAndGlyphs" fill="#3a3a3a">&lt;.001</text><rect x="446.2" y="106.1" width="25.7" height="11.1" fill="#6fac50"/><rect x="339.1" y="155.2" width="25.7" height="11.1" fill="#6fac50"/><text class="t" x="371.6" y="163.3" font-size="6.7" textLength="14.6" lengthAdjust="spacingAndGlyphs" fill="#3a3a3a">&lt;.001</text><text class="t" x="398.4" y="163.3" font-size="6.7" textLength="14.6" lengthAdjust="spacingAndGlyphs" fill="#3a3a3a">&lt;.001</text><text class="t" x="426.9" y="163.3" font-size="6.7" textLength="11.0" lengthAdjust="spacingAndGlyphs" fill="#3a3a3a">.012</text><rect x="446.2" y="155.2" width="25.7" height="11.1" fill="url(#chk)"/><text class="t" x="480.2" y="163.3" font-size="6.7" textLength="11.0" lengthAdjust="spacingAndGlyphs" fill="#3a3a3a">.024</text><rect x="472.8" y="106.1" width="25.7" height="11.1" fill="#a53444"/><rect x="339.1" y="167.5" width="25.7" height="11.1" fill="#a53444"/><text class="t" x="371.6" y="175.6" font-size="6.7" textLength="14.6" lengthAdjust="spacingAndGlyphs" fill="#3a3a3a">&lt;.001</text><text class="t" x="398.4" y="175.6" font-size="6.7" textLength="14.6" lengthAdjust="spacingAndGlyphs" fill="#3a3a3a">&lt;.001</text><text class="t" x="425.1" y="175.6" font-size="6.7" textLength="14.6" lengthAdjust="spacingAndGlyphs" fill="#3a3a3a">&lt;.001</text><text class="t" x="453.6" y="175.6" font-size="6.7" textLength="11.0" lengthAdjust="spacingAndGlyphs" fill="#3a3a3a">.024</text><rect x="472.8" y="167.5" width="25.7" height="11.1" fill="url(#chk)"/>
</svg></body></html>
